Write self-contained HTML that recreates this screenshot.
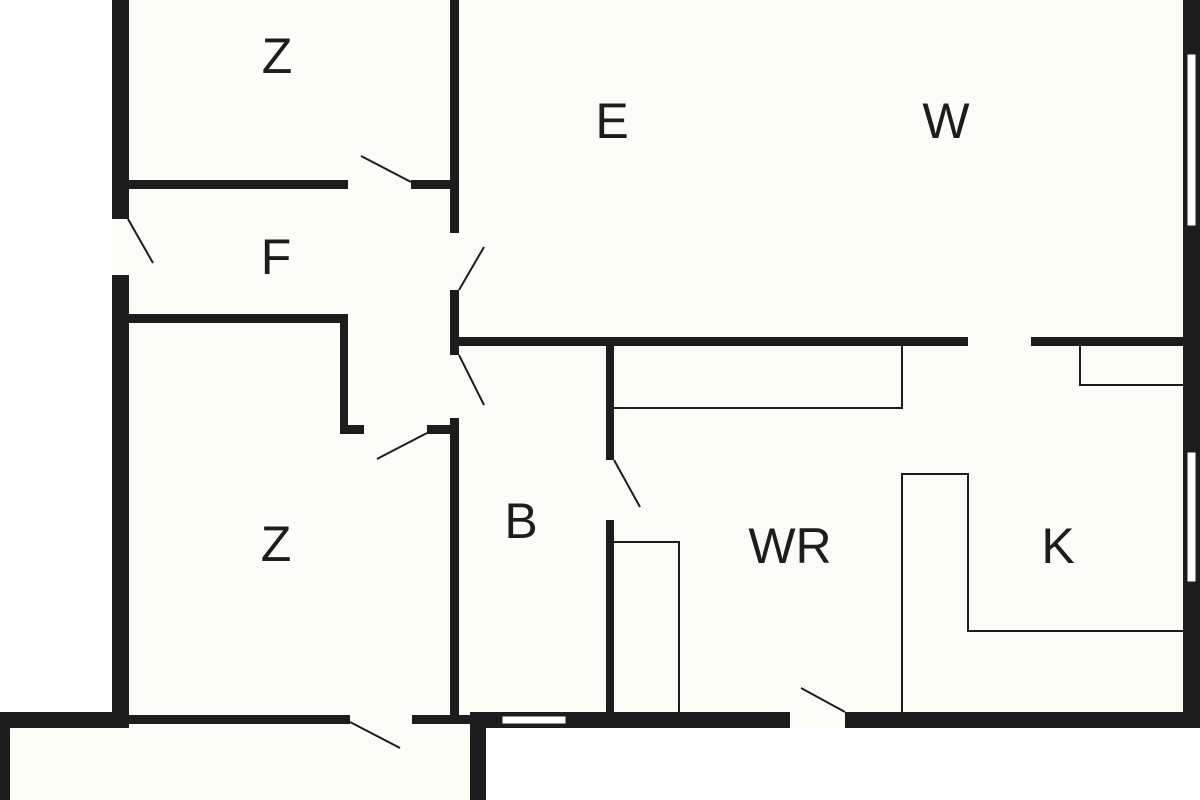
<!DOCTYPE html>
<html><head><style>html,body{margin:0;padding:0;background:#fff}svg{display:block}</style></head>
<body>
<svg width="1200" height="800" viewBox="0 0 1200 800" xmlns="http://www.w3.org/2000/svg">
<rect width="1200" height="800" fill="#fff"/>
<rect x="112" y="0" width="1088" height="728" fill="#fdfdf8"/>
<rect x="0" y="712" width="485" height="88" fill="#fdfdf8"/>
<g fill="#1d1d1d">
<!-- left outer wall -->
<rect x="112" y="0" width="17" height="219"/>
<rect x="112" y="275" width="17" height="445"/>
<!-- wall between top Z and F -->
<rect x="129" y="180" width="219" height="9"/>
<rect x="411" y="180" width="40" height="9"/>
<!-- vertical interior wall x450 -->
<rect x="450" y="0" width="9" height="233"/>
<rect x="450" y="290" width="9" height="65"/>
<rect x="450" y="418" width="9" height="297"/>
<!-- F / lower Z wall -->
<rect x="129" y="314" width="219" height="9"/>
<rect x="340" y="314" width="8" height="120"/>
<rect x="340" y="425" width="24" height="9"/>
<rect x="427" y="425" width="32" height="9"/>
<!-- horizontal wall y337 -->
<rect x="459" y="337" width="509" height="9"/>
<rect x="1031" y="337" width="152" height="9"/>
<!-- B / WR wall -->
<rect x="606" y="346" width="8" height="114"/>
<rect x="606" y="520" width="8" height="195"/>
<!-- right outer wall -->
<rect x="1183" y="0" width="17" height="728"/>
<!-- bottom walls -->
<rect x="0" y="712" width="129" height="16"/>
<rect x="0" y="712" width="10" height="88"/>
<rect x="129" y="715" width="221" height="9"/>
<rect x="412" y="715" width="58" height="9"/>
<rect x="470" y="712" width="320" height="16"/>
<rect x="470" y="712" width="16" height="88"/>
<rect x="845" y="712" width="355" height="16"/>
</g>
<!-- windows -->
<rect x="502" y="716" width="64" height="8" fill="#fff" stroke="#1d1d1d" stroke-width="1"/>
<rect x="1187" y="54" width="9" height="172" fill="#fff" stroke="#1d1d1d" stroke-width="1"/>
<rect x="1187" y="452" width="9" height="130" fill="#fff" stroke="#1d1d1d" stroke-width="1"/>
<!-- door swings -->
<g stroke="#1d1d1d" stroke-width="2" fill="none">
<line x1="128" y1="219" x2="153" y2="263"/>
<line x1="411" y1="182" x2="361" y2="156"/>
<line x1="459" y1="290" x2="484" y2="247"/>
<line x1="459" y1="355" x2="484" y2="405"/>
<line x1="427" y1="433" x2="377" y2="459"/>
<line x1="614" y1="460" x2="640" y2="507"/>
<line x1="845" y1="712" x2="801" y2="688"/>
<line x1="350" y1="722" x2="400" y2="748"/>
</g>
<!-- thin fixtures -->
<g stroke="#1d1d1d" stroke-width="2" fill="none">
<polyline points="614,408 902,408 902,346"/>
<polyline points="1080,346 1080,385 1183,385"/>
<polyline points="902,712 902,474 968,474 968,631 1183,631"/>
<polyline points="614,542 679,542 679,712"/>
</g>
<g font-family="Liberation Sans, sans-serif" font-size="50" fill="#1d1d1d" text-anchor="middle">
<text x="277" y="73">Z</text>
<text x="612" y="138">E</text>
<text x="946" y="138">W</text>
<text x="276" y="274">F</text>
<text x="276" y="561">Z</text>
<text x="521" y="538">B</text>
<text x="790" y="563">WR</text>
<text x="1058" y="563">K</text>
</g>
</svg>
</body></html>
